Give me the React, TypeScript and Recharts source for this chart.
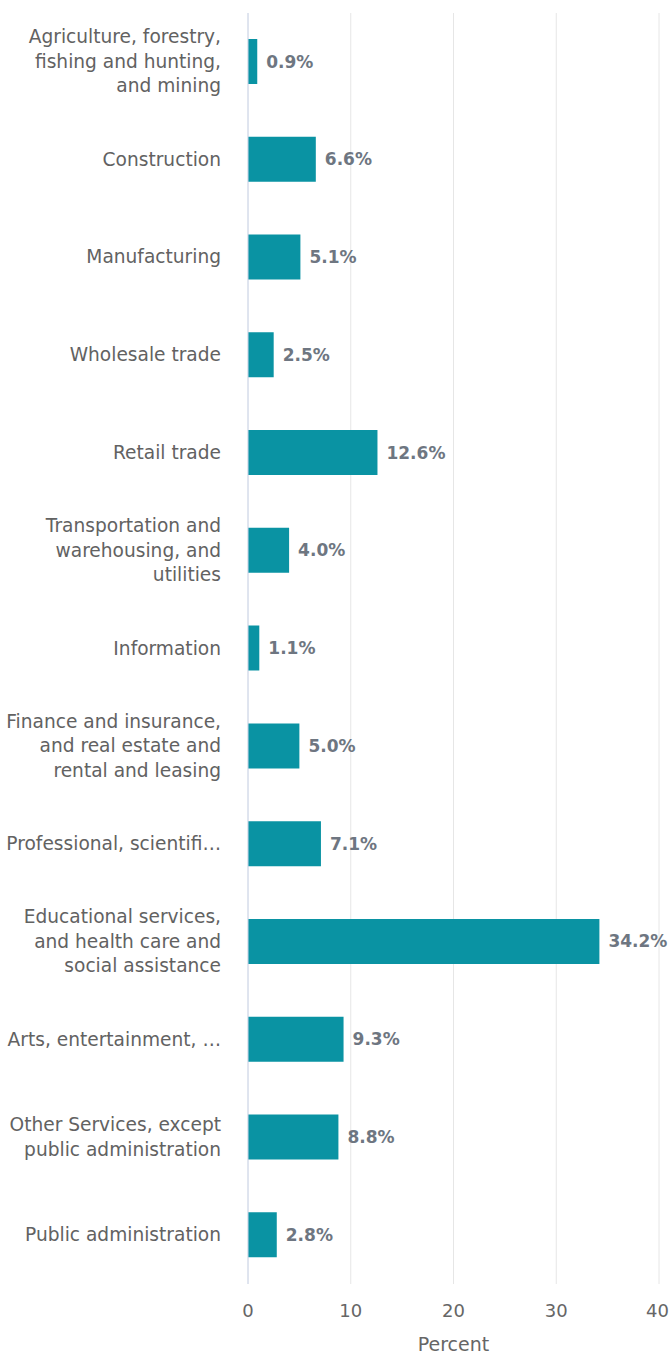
import { BarChart, Bar, XAxis, YAxis, CartesianGrid, LabelList } from 'recharts';

const CATEGORIES = [
  'Agriculture, forestry,\nfishing and hunting,\nand mining',
  'Construction',
  'Manufacturing',
  'Wholesale trade',
  'Retail trade',
  'Transportation and\nwarehousing, and\nutilities',
  'Information',
  'Finance and insurance,\nand real estate and\nrental and leasing',
  'Professional, scientifi…',
  'Educational services,\nand health care and\nsocial assistance',
  'Arts, entertainment, …',
  'Other Services, except\npublic administration',
  'Public administration',
];
const PERCENTS = [0.9, 6.6, 5.1, 2.5, 12.6, 4.0, 1.1, 5.0, 7.1, 34.2, 9.3, 8.8, 2.8];
const X_TICKS = [0, 10, 20, 30, 40];

const data = CATEGORIES.map((name, i) => ({ name, value: PERCENTS[i] }));

const FONT = '"DejaVu Sans", sans-serif';
const BAR = '#0a93a3';

const CategoryTick = ({ x, y, payload }: { x?: number; y?: number; payload?: { value: string } }) => {
  const lines = String(payload?.value ?? '').split('\n');
  const lh = 24.5;
  return (
    <text x={x} y={y} textAnchor="end" fill="#626262" fontSize={18.6} fontFamily={FONT}>
      {lines.map((l, i) => (
        <tspan key={i} x={x} dy={i === 0 ? -((lines.length - 1) * lh) / 2 + 6 : lh}>{l}</tspan>
      ))}
    </text>
  );
};

export default function App() {
  return (
    <div style={{ position: 'absolute', left: 0, top: 0, background: '#fff' }}>
      <BarChart
        width={670}
        height={1356}
        data={data}
        layout="vertical"
        margin={{ top: 13, right: 11, bottom: 0, left: 0 }}
        barCategoryGap={0}
      >
        <CartesianGrid horizontal={false} stroke="#e6e6e6" />
        <XAxis
          type="number"
          domain={[0, 40]}
          ticks={X_TICKS}
          axisLine={false}
          tickLine={false}
          height={72}
          tickMargin={14}
          tick={{ fontSize: 18, fill: '#666', fontFamily: FONT }}
          label={{ value: 'Percent', position: 'insideBottom', offset: 5, fontSize: 19, fill: '#666', fontFamily: FONT }}
        />
        <YAxis
          type="category"
          dataKey="name"
          width={248}
          axisLine={{ stroke: '#ccd6eb' }}
          tickLine={false}
          tickSize={0}
          tickMargin={27}
          interval={0}
          tick={<CategoryTick />}
        />
        <Bar dataKey="value" fill={BAR} barSize={45} isAnimationActive={false}>
          <LabelList
            dataKey="value"
            position="right"
            offset={9}
            formatter={(v: number) => `${v.toFixed(1)}%`}
            style={{ fontSize: 17, fontWeight: 700, fill: '#6e7681', fontFamily: FONT }}
          />
        </Bar>
      </BarChart>
    </div>
  );
}
